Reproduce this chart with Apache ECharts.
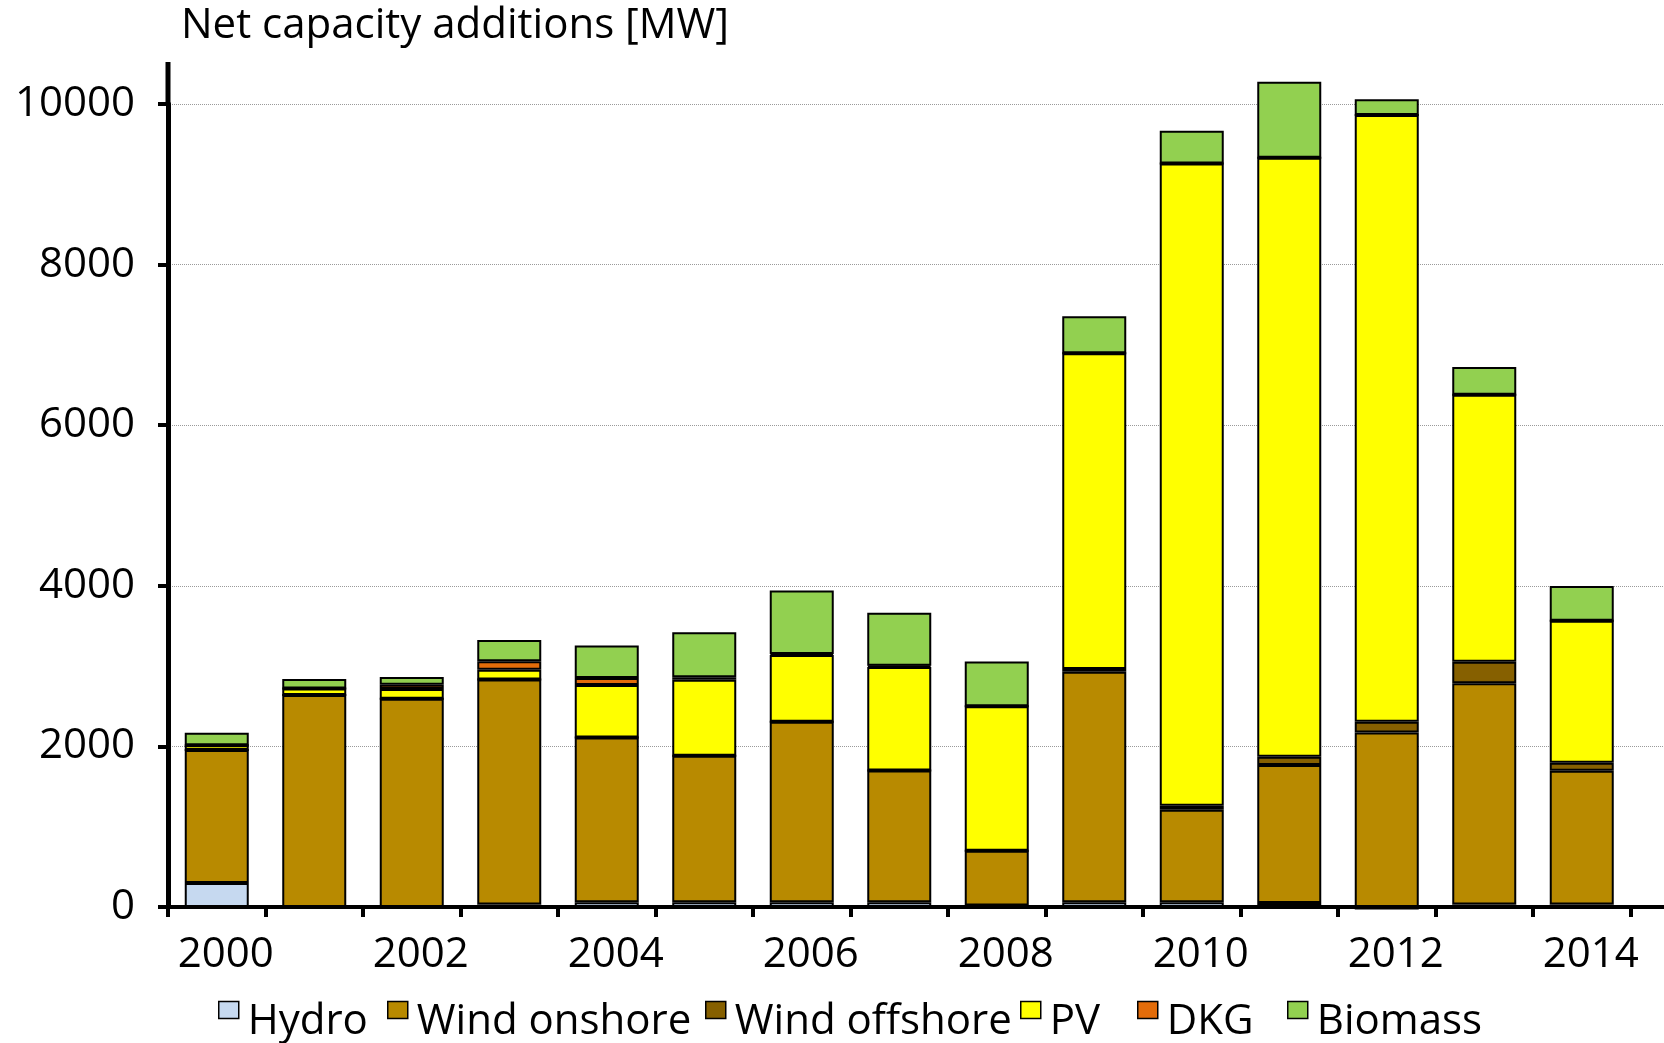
<!DOCTYPE html>
<html>
<head>
<meta charset="utf-8">
<script src="https://cdn.jsdelivr.net/npm/echarts@6/dist/echarts.min.js"></script>
<style>
  html, body { margin: 0; padding: 0; background: #fff; }
  #chart { width: 1664px; height: 1043px; }
</style>
</head>
<body>
<div id="chart"></div>
<script>
// years, plus one empty slot so the axis runs on to the right edge
var years = ['2000','2001','2002','2003','2004','2005','2006','2007','2008','2009','2010','2011','2012','2013','2014'];
var yearSlots = years.concat(['']);

// net additions in MW
var hydro        = [300,    0,    0,   30,   60,   60,   60,   60,   20,   60,   60,   50,  -30,   30,   30];
var windOnshore  = [1655, 2640, 2594, 2804, 2050, 1823, 2247, 1640,  680, 2870, 1150, 1717, 2173, 2755, 1666];
var windOffshore = [   0,    0,    0,    0,    0,    0,    0,    0,    0,   35,   50,  103,  134,  270,  100];
var pv           = [  60,   82,  120,  121,  655,  947,  830, 1290, 1800, 3930, 8000, 7460, 7556, 3325, 1770];
var dkg          = [   0,    0,   54,  104,   86,   30,   15,   15,    0,    0,    0,    0,    0,    0,    0];
var biomass      = [ 155,  117,   96,  266,  407,  560,  790,  660,  556,  463,  407,  948,  195,  344,  431];

var yTicks = [0, 2000, 4000, 6000, 8000, 10000];

var seriesNames = ['Hydro', 'Wind onshore', 'Wind offshore', 'PV', 'DKG', 'Biomass'];
var seriesData = [hydro, windOnshore, windOffshore, pv, dkg, biomass];
var colors = ['#c6d9f0', '#b88a00', '#866000', '#ffff00', '#e36c0a', '#92d050'];
// left edge of each legend entry
var legendLeft = [213, 382, 700, 1015, 1132, 1282];

var FONT = '"Open Sans", "Noto Sans", sans-serif';

var chart = echarts.init(document.getElementById('chart'));

var series = seriesNames.map(function (name, i) {
    return {
        name: name,
        type: 'bar',
        stack: 'total',
        barWidth: 64,
        clip: false,
        data: seriesData[i],
        itemStyle: {
            color: colors[i],
            borderColor: '#000',
            borderWidth: 2
        }
    };
});

// one legend per entry so each key sits where the original put it
var legends = seriesNames.map(function (n, i) {
    return {
        left: legendLeft[i],
        bottom: -5,
        itemWidth: 20,
        itemHeight: 17,
        icon: 'rect',
        selectedMode: false,
        data: [{ name: n, itemStyle: { color: colors[i], borderColor: '#000', borderWidth: 1.5 } }],
        formatter: '{t|{name}}',
        textStyle: {
            fontFamily: FONT,
            fontSize: 42,
            color: '#000',
            rich: {
                // text sits lower than the key, as in the excel legend
                t: { fontFamily: FONT, fontSize: 42, color: '#000', padding: [24, 0, 0, 4] }
            }
        }
    };
});

var option = {
    animation: false,
    backgroundColor: '#fff',
    textStyle: { fontFamily: FONT },
    title: {
        text: 'Net capacity additions [MW]',
        left: 176,
        top: 0,
        textStyle: { fontFamily: FONT, fontSize: 42, fontWeight: 'normal', color: '#000' }
    },
    legend: legends,
    grid: {
        left: 168,
        right: -64,
        top: 104,
        bottom: 136,
        outerBoundsMode: 'none',
        containLabel: false
    },
    xAxis: {
        type: 'category',
        data: yearSlots,
        axisLine: { onZero: false, lineStyle: { color: '#000', width: 4 } },
        axisTick: { show: true, interval: 0, length: 10, lineStyle: { color: '#000', width: 4 } },
        axisLabel: {
            interval: 1,
            margin: 27,
            padding: [0, 0, 0, 18],
            color: '#000',
            fontFamily: FONT,
            fontSize: 42
        },
        splitLine: { show: false }
    },
    yAxis: {
        type: 'value',
        min: 0,
        max: 10000,
        interval: 2000,
        axisLine: { show: true, lineStyle: { color: '#000', width: 5 } },
        axisTick: { show: true, length: 10, lineStyle: { color: '#000', width: 4 } },
        axisLabel: {
            margin: 33,
            color: '#000',
            fontFamily: FONT,
            fontSize: 42,
            formatter: function (v) { return yTicks.indexOf(v) >= 0 ? String(v) : ''; }
        },
        splitLine: { show: true, lineStyle: { color: '#9a9a9a', width: 1, type: 'dotted' } }
    },
    graphic: [
        {
            // y axis runs on a little above the top gridline
            type: 'line',
            shape: { x1: 168, y1: 62, x2: 168, y2: 106 },
            style: { stroke: '#000', lineWidth: 5 }
        }
    ],
    series: series
};

chart.setOption(option);
</script>
</body>
</html>
